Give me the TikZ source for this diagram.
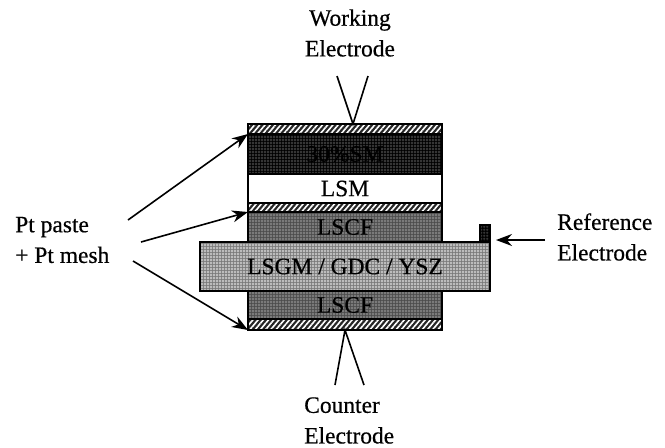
\documentclass[tikz,border=0pt]{standalone}
\usepackage{fontspec}
\setmainfont[FakeBold=0.5]{Liberation Serif}
\usetikzlibrary{arrows.meta,patterns,patterns.meta,calc}
\pgfdeclarepatternformonly{finegrid}{\pgfpointorigin}{\pgfqpoint{2.25pt}{2.25pt}}{\pgfqpoint{2.25pt}{2.25pt}}{%
  \pgfsetlinewidth{0.55pt}
  \pgfpathmoveto{\pgfqpoint{0pt}{1pt}}\pgfpathlineto{\pgfqpoint{2.25pt}{1pt}}
  \pgfpathmoveto{\pgfqpoint{1pt}{0pt}}\pgfpathlineto{\pgfqpoint{1pt}{2.25pt}}
  \pgfusepath{stroke}}
\tikzset{
  layer/.style={draw=black,line width=0.9pt,minimum width=145.5pt,inner sep=0pt,outer sep=0pt,font=\fontsize{17.6}{20}\selectfont},
  hatchlayer/.style={layer,preaction={fill=black!85},pattern={Lines[angle=50,distance=3pt,line width=1.2pt]},pattern color=white},
  cermet/.style={layer,preaction={fill=black},pattern=finegrid,pattern color=black!68},
  cathode/.style={layer,preaction={fill=black!70},pattern=finegrid,pattern color=black!42},
  electrolyte/.style={layer,preaction={fill=black!52},pattern=finegrid,pattern color=black!12},
  label/.style={font=\fontsize{17.6}{23}\selectfont,align=left,inner sep=0pt},
  ptr/.style={line width=1.2pt,-{Stealth[length=12pt,width=9pt]}},
  lead/.style={line width=1.2pt}
}
\begin{document}
\begin{tikzpicture}[x=0.75pt,y=-0.75pt]
  \useasboundingbox (0,0) rectangle (665,447);
  \node[hatchlayer,minimum height=7.5pt] (hatchtop) at (345,129) {};
  \node[cermet,minimum height=30pt] (cermet) at (345,154) {30\%SM};
  \node[layer,fill=white,minimum height=21.75pt] (lsm) at (345,188.5) {LSM};
  \node[hatchlayer,minimum height=6.75pt] (hatchmid) at (345,207.5) {};
  \node[cathode,minimum height=22.5pt] (lscftop) at (345,227) {LSCF};
  \node[electrolyte,minimum width=217.5pt,minimum height=36.75pt] (lsgm) at (345,266.5) {LSGM / GDC / YSZ};
  \node[cathode,minimum height=21pt] (lscfbot) at (345,305) {LSCF};
  \node[hatchlayer,minimum height=8.25pt] (hatchbot) at (345,324.5) {};
  \node[cermet,minimum width=7.5pt,minimum height=12.75pt] (refel) at (485,233.5) {};
  \node[label,align=center] (working) at (350,33) {Working\\Electrode};
  \node[label,anchor=west] (counter) at (304,420.5) {Counter\\Electrode};
  \node[label,anchor=west] (paste) at (15,240) {Pt paste\\+ Pt mesh};
  \node[label,anchor=west] (reference) at (557,237) {Reference\\Electrode};
  \coordinate (pasteA) at (128,220);
  \coordinate (pasteB) at (141,242);
  \coordinate (pasteC) at (133,261);
  \coordinate (refstart) at (545,240);
  \coordinate (refend) at (496,240);
  \coordinate (workapex) at (353,124);
  \coordinate (workL) at (337,76);
  \coordinate (workR) at (368,76);
  \coordinate (countL) at (335,385);
  \coordinate (countR) at (364,385);
  \draw[ptr] (pasteA) -- (hatchtop.south west);
  \draw[ptr] (pasteB) -- (hatchmid.south west);
  \draw[ptr] (pasteC) -- (hatchbot.south west);
  \draw[ptr] (refstart) -- (refend);
  \draw[lead] (workL) -- (workapex) -- (workR);
  \draw[lead] (countL) -- (hatchbot.south) -- (countR);
\end{tikzpicture}
\end{document}
